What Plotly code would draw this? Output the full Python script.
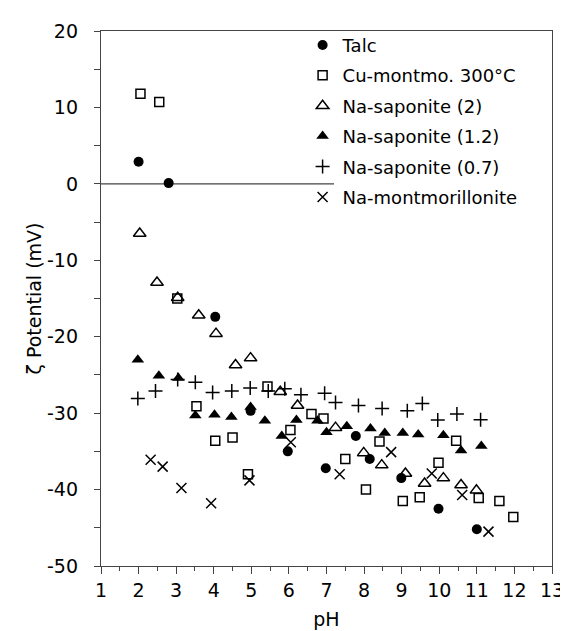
import plotly.graph_objects as go

talc_ph = [2.0, 2.8, 4.04, 4.98, 5.97, 6.98, 7.78, 8.15, 8.99, 9.98, 11.0]
talc_z = [2.9, 0.1, -17.4, -29.7, -35.0, -37.2, -33.0, -36.0, -38.5, -42.5, -45.2]

cu_ph = [2.05, 2.55, 3.03, 3.54, 4.04, 4.5, 4.91, 5.43, 6.04, 6.6, 6.92, 7.5, 8.05, 8.41, 9.03, 9.48, 9.98, 10.45, 11.05, 11.6, 11.97]
cu_z = [11.8, 10.7, -15.0, -29.1, -33.6, -33.2, -38.0, -26.5, -32.2, -30.1, -30.7, -36.0, -40.0, -33.7, -41.5, -41.0, -36.5, -33.6, -41.1, -41.5, -43.6]

sap2_ph = [2.03, 2.49, 3.04, 3.6, 4.06, 4.58, 4.98, 5.77, 6.23, 7.24, 7.99, 8.47, 9.1, 9.61, 10.11, 10.58, 10.99]
sap2_z = [-6.5, -12.9, -14.9, -17.2, -19.6, -23.7, -22.8, -27.2, -29.0, -31.9, -35.2, -36.8, -37.9, -39.2, -38.5, -39.4, -40.1]

sap12_ph = [1.98, 2.54, 3.06, 3.51, 4.02, 4.47, 4.98, 5.36, 5.81, 6.2, 6.76, 7.0, 7.54, 8.17, 8.55, 9.03, 9.44, 10.11, 10.58, 11.12]
sap12_z = [-23.0, -25.1, -25.4, -30.3, -30.2, -30.5, -29.2, -31.0, -33.0, -30.9, -31.0, -32.5, -31.7, -32.0, -32.6, -32.6, -32.8, -32.9, -34.9, -34.3]

sap07_ph = [1.98, 2.45, 3.04, 3.51, 3.97, 4.48, 4.97, 5.45, 5.89, 6.32, 6.95, 7.24, 7.85, 8.48, 9.15, 9.55, 9.96, 10.47, 11.1]
sap07_z = [-28.1, -27.1, -25.6, -25.95, -27.3, -27.1, -26.7, -27.1, -26.8, -27.6, -27.4, -28.6, -29.0, -29.4, -29.7, -28.75, -30.9, -30.1, -30.85]

mont_ph = [2.32, 2.64, 3.14, 3.93, 4.95, 6.05, 7.35, 8.72, 9.8, 10.61, 11.31]
mont_z = [-36.1, -37.0, -39.8, -41.8, -38.8, -33.8, -38.0, -35.1, -37.9, -40.7, -45.5]

names = ["Talc", "Cu-montmo. 300°C", "Na-saponite (2)", "Na-saponite (1.2)",
         "Na-saponite (0.7)", "Na-montmorillonite"]

y_tickvals = [20, 10, 0, -10, -20, -30, -40, -50]
y_ticktext = ["20", "10", "0", "-10", "-20", "-30", "-40", "-50"]
x_tickvals = [1, 2, 3, 4, 5, 6, 7, 8, 9, 10, 11, 12, 13]
x_ticktext = ["1", "2", "3", "4", "5", "6", "7", "8", "9", "10", "11", "12", "13"]

FONT = "DejaVu Sans, Arial, sans-serif"
BLACK = "#000000"
AX = "#444444"

series = [
    (talc_ph, talc_z, dict(symbol="circle", size=10, color=BLACK, line=dict(width=0))),
    (cu_ph, cu_z, dict(symbol="square-open", size=9, color=BLACK, line=dict(width=1.5, color=BLACK))),
    (sap2_ph, sap2_z, dict(symbol="triangle-up-open", size=11, color=BLACK, line=dict(width=1.5, color=BLACK))),
    (sap12_ph, sap12_z, dict(symbol="triangle-up", size=11, color=BLACK, line=dict(width=0))),
    (sap07_ph, sap07_z, dict(symbol="cross-thin-open", size=10, color=BLACK, line=dict(width=1.5, color=BLACK))),
    (mont_ph, mont_z, dict(symbol="x-thin-open", size=10, color=BLACK, line=dict(width=1.5, color=BLACK))),
]

fig = go.Figure()
for i, ((xs, ys, mk), nm) in enumerate(zip(series, names)):
    fig.add_trace(go.Scatter(x=xs, y=ys, mode="markers", name=nm, marker=mk,
                             legendgroup=f"g{i}", showlegend=True))

fig.add_shape(type="line", x0=1, x1=7.2, y0=0, y1=0, xref="x", yref="y",
              line=dict(color=AX, width=1.2), layer="below")

fig.update_layout(
    width=568, height=631,
    margin=dict(l=93, r=16, t=22, b=73),
    paper_bgcolor="white", plot_bgcolor="white",
    font=dict(family=FONT, size=18, color=BLACK),
    showlegend=True,
    legend=dict(x=0.447, y=1.008, xanchor="left", yanchor="top",
                bgcolor="rgba(0,0,0,0)", borderwidth=0,
                font=dict(family=FONT, size=18, color=BLACK),
                tracegroupgap=4, traceorder="grouped", itemwidth=30),
    xaxis=dict(range=[1, 13], tickmode="array", tickvals=x_tickvals, ticktext=x_ticktext,
               showgrid=False, zeroline=False,
               showline=True, linecolor=AX, linewidth=1.3, mirror=True,
               ticks="outside", ticklen=7, tickcolor=AX, tickwidth=1.2,
               tickfont=dict(family=FONT, size=19, color=BLACK),
               minor=dict(dtick=0.5, tick0=1, ticks="outside", ticklen=4, tickcolor=AX, tickwidth=1.2, showgrid=False),
               title=dict(text="pH", font=dict(family=FONT, size=19, color=BLACK), standoff=12)),
    yaxis=dict(range=[-50, 20], tickmode="array", tickvals=y_tickvals, ticktext=y_ticktext,
               showgrid=False, zeroline=False,
               showline=True, linecolor=AX, linewidth=1.3, mirror=True,
               ticks="outside", ticklen=6, tickcolor=AX, tickwidth=1.2, ticklabelstandoff=12,
               tickfont=dict(family=FONT, size=19, color=BLACK),
               minor=dict(dtick=5, tick0=0, ticks="outside", ticklen=6, tickcolor=AX, tickwidth=1.2, showgrid=False),
               title=dict(text="ζ Potential (mV)", font=dict(family=FONT, size=19, color=BLACK), standoff=0)),
)

fig.write_html("out.html")
